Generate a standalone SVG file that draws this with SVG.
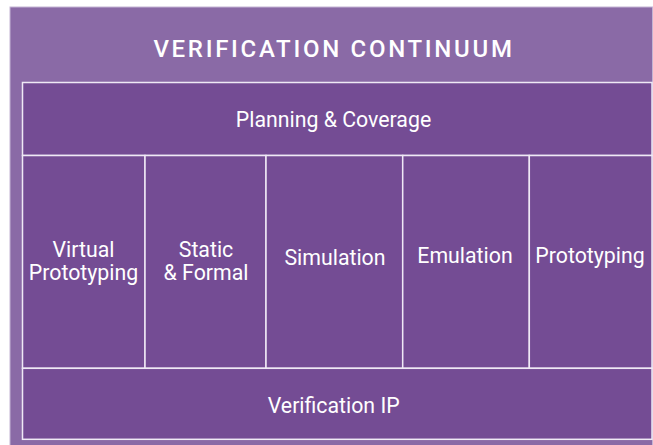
<svg xmlns="http://www.w3.org/2000/svg" width="653" height="445" viewBox="0 0 653 445">
<style>
.cell{fill:#744c94;stroke:#efe9f5;stroke-width:1.5}
.t{font-family:Roboto,"Liberation Sans",sans-serif;font-size:21.3px;fill:#ffffff;text-anchor:middle}
.title{font-family:Roboto,"Liberation Sans",sans-serif;font-size:24px;font-weight:500;fill:#ffffff;text-anchor:middle;letter-spacing:2.7px}
</style>
<rect width="653" height="445" fill="#ffffff"/>
<g id="continuum">
<rect x="10" y="7" width="642.5" height="450" fill="#8a6aa6" stroke="#c3b3d3" stroke-width="1"/>
<text class="title" x="334" y="57">VERIFICATION CONTINUUM</text>
</g>
<g id="planning">
<rect class="cell" x="22.5" y="82.5" width="629.5" height="73"/>
<text class="t" x="333.5" y="127">Planning &amp; Coverage</text>
</g>
<g id="virtual-prototyping">
<rect class="cell" x="22.5" y="155.5" width="122.5" height="212.8"/>
<text class="t" x="83.5" y="256.5">Virtual</text>
<text class="t" x="83.5" y="280">Prototyping</text>
</g>
<g id="static-formal">
<rect class="cell" x="145" y="155.5" width="121" height="212.8"/>
<text class="t" x="206" y="256.5">Static</text>
<text class="t" x="206" y="280">&amp; Formal</text>
</g>
<g id="simulation">
<rect class="cell" x="266" y="155.5" width="136.7" height="212.8"/>
<text class="t" x="335" y="265">Simulation</text>
</g>
<g id="emulation">
<rect class="cell" x="402.7" y="155.5" width="126.6" height="212.8"/>
<text class="t" x="465" y="262.7">Emulation</text>
</g>
<g id="prototyping">
<rect class="cell" x="529.3" y="155.5" width="122.7" height="212.8"/>
<text class="t" x="590" y="262.7">Prototyping</text>
</g>
<g id="verification-ip">
<rect class="cell" x="22.5" y="368.3" width="629.5" height="71"/>
<text class="t" x="333.7" y="412.7">Verification IP</text>
</g>
</svg>
